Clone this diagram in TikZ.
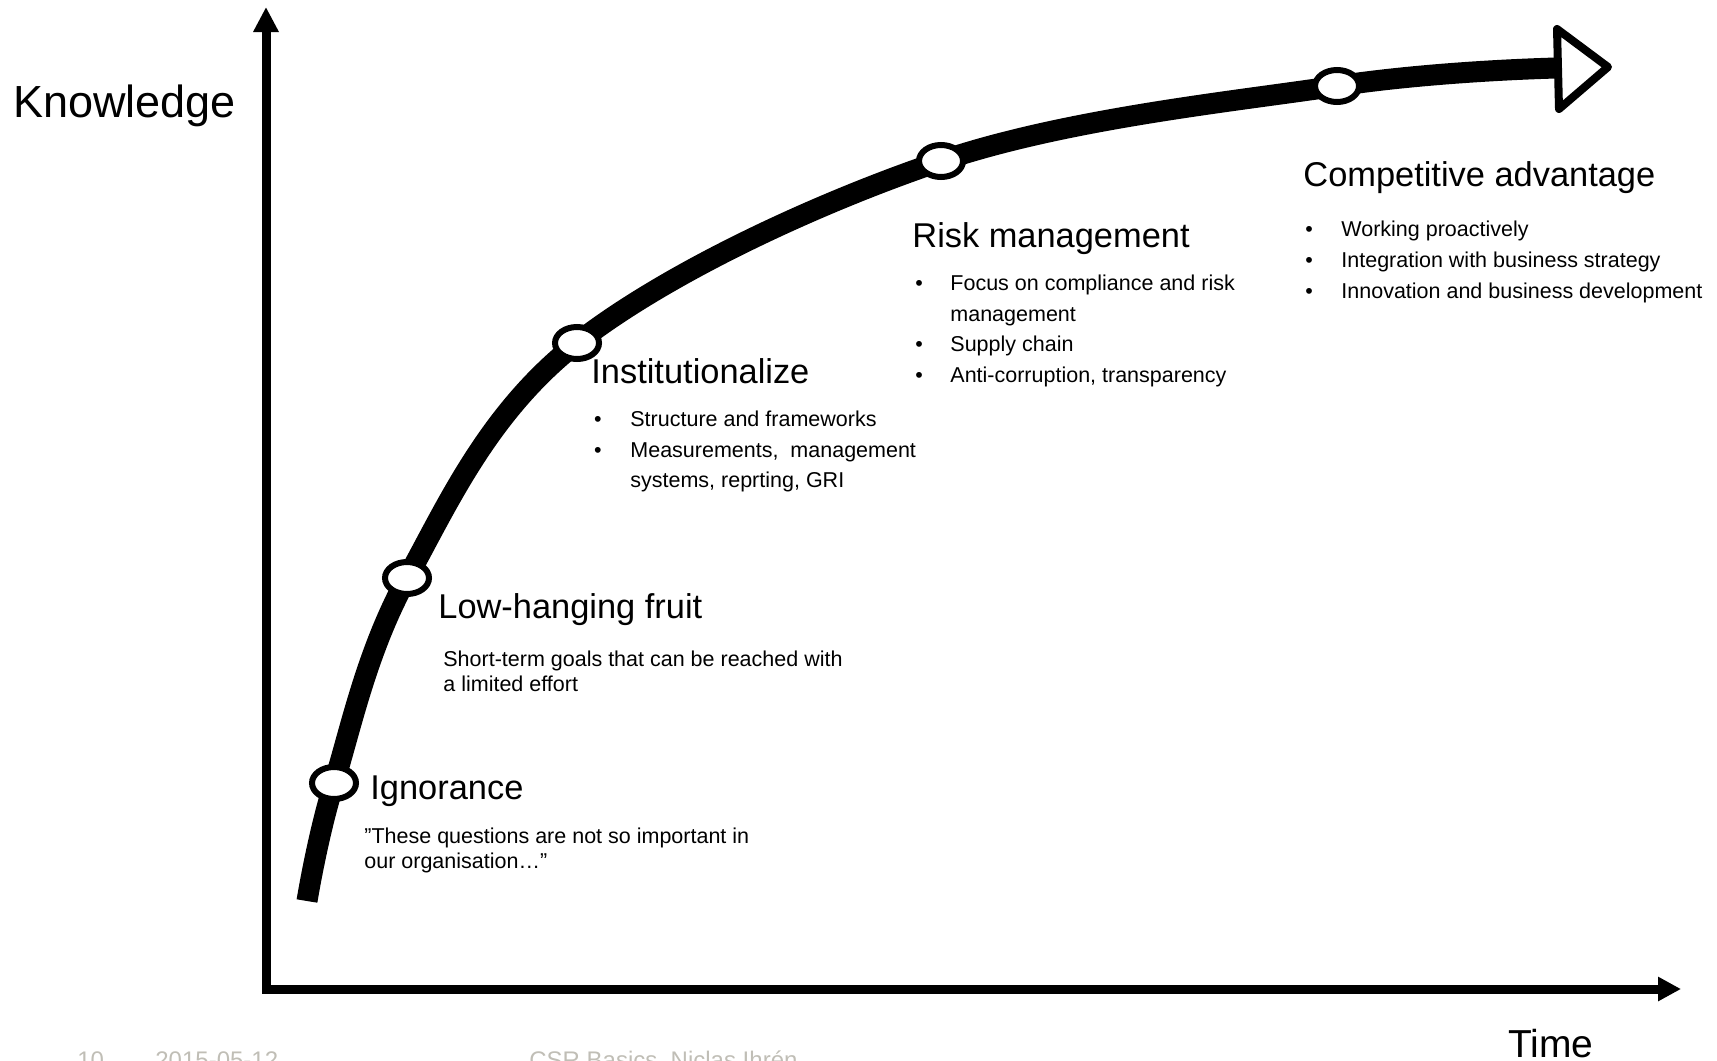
\documentclass[tikz,border=0pt]{standalone}
\usepackage{fontspec}
\setmainfont{Liberation Sans}
\usetikzlibrary{arrows.meta,shapes.geometric}
\definecolor{footgrey}{RGB}{192,190,182}
\begin{document}
\begin{tikzpicture}[x=0.5pt,y=-0.5pt,
  stage/.style={ellipse,draw=black,fill=white,line width=3pt,minimum width=22pt,minimum height=16pt,inner sep=0pt},
  title/.style={anchor=base west,inner sep=0pt,font=\fontsize{17.2}{20}\selectfont},
  body/.style={anchor=base west,inner sep=0pt,font=\fontsize{10.75}{12.5}\selectfont},
  bul/.style={anchor=base,inner sep=0pt,font=\fontsize{10.75}{12.5}\selectfont},
  foot/.style={anchor=base west,inner sep=0pt,text=footgrey,font=\fontsize{12}{14}\selectfont}]
\useasboundingbox (0,0) rectangle (1717,1060);
\clip (0,0) rectangle (1717,1060);
% axes
\coordinate (ytip) at (266,7);
\coordinate (origin) at (266,989);
\coordinate (xtip) at (1681,989);
\draw[line width=4.5pt,line join=miter,{Triangle[length=12.5pt,width=12pt]}-{Triangle[length=11.5pt,width=11.5pt]}] (ytip) -- (origin) -- (xtip);
% curve
\coordinate (c0) at (307,901);
\coordinate (p1) at (334,783);
\coordinate (p2) at (407,578);
\coordinate (p3) at (577,343);
\coordinate (p4) at (941,161);
\coordinate (p5) at (1337,86);
\coordinate (c6) at (1557,68);
\draw[line width=10.5pt] plot[smooth,tension=0.6] coordinates {(c0) (p1) (p2) (p3) (p4) (p5) (c6)};
% arrow head
\coordinate (t1) at (1557,29);
\coordinate (t2) at (1608,67);
\coordinate (t3) at (1559,109);
\draw[line width=4pt,line join=round,fill=white] (t1) -- (t2) -- (t3) -- cycle;
% stages
\node[stage] (s1) at (p1) {};
\node[stage] (s2) at (p2) {};
\node[stage] (s3) at (p3) {};
\node[stage] (s4) at (p4) {};
\node[stage] (s5) at (p5) {};
% axis labels
\node[anchor=base west,inner sep=0pt,font=\fontsize{22.5}{26}\selectfont] (ylab) at (13,117) {Knowledge};
\node[anchor=base west,inner sep=0pt,font=\fontsize{19.5}{23}\selectfont] (xlab) at (1508,1057) {Time};
% Ignorance
\node[title] (ti1) at (370,799) {Ignorance};
\node[body] (q1) at (364,843) {”These questions are not so important in};
\node[body] (q2) at (364,868) {our organisation…”};
% Low-hanging fruit
\node[title] (ti2) at (438,618) {Low-hanging fruit};
\node[body] (l1) at (443,666) {Short-term goals that can be reached with};
\node[body] (l2) at (443,691) {a limited effort};
% Institutionalize
\node[title] (ti3) at (591,383) {Institutionalize};
\node[bul] (b31) at (598,426) {•};
\node[body] (i1) at (630,426) {Structure and frameworks};
\node[bul] (b32) at (598,457) {•};
\node[body] (i2) at (630,457) {Measurements,\ \ management};
\node[body] (i3) at (630,487) {systems, reprting, GRI};
% Risk management
\node[title] (ti4) at (912,247) {Risk management};
\node[bul] (b41) at (919,290) {•};
\node[body] (r1) at (950,290) {Focus on compliance and risk};
\node[body] (r2) at (950,321) {management};
\node[bul] (b42) at (919,351.5) {•};
\node[body] (r3) at (950,351.5) {Supply chain};
\node[bul] (b43) at (919,382) {•};
\node[body] (r4) at (950,382) {Anti-corruption, transparency};
% Competitive advantage
\node[title] (ti5) at (1303,186) {Competitive advantage};
\node[bul] (b51) at (1309,236.5) {•};
\node[body] (k1) at (1341,236.5) {Working proactively};
\node[bul] (b52) at (1309,267) {•};
\node[body] (k2) at (1341,267) {Integration with business strategy};
\node[bul] (b53) at (1309,298) {•};
\node[body] (k3) at (1341,298) {Innovation and business development};
% footer
\node[foot] (f1) at (77,1068) {10};
\node[foot] (f2) at (155,1068) {2015-05-12};
\node[foot] (f3) at (529,1068) {CSR Basics, Niclas Ihrén};
\end{tikzpicture}
\end{document}
